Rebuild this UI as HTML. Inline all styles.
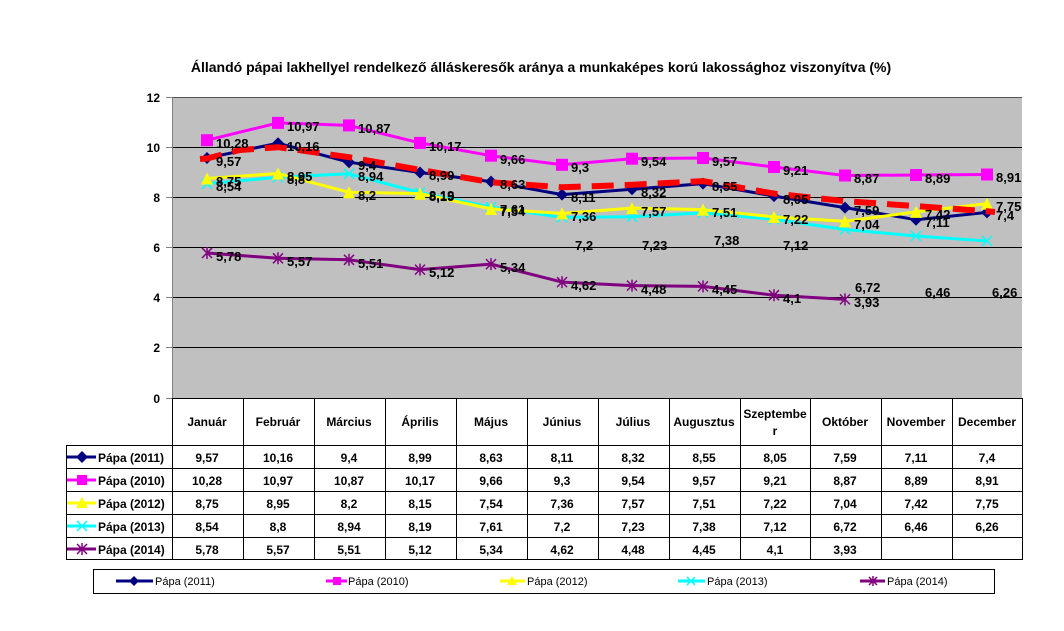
<!DOCTYPE html>
<html><head><meta charset="utf-8"><style>
html,body{margin:0;padding:0;background:#fff;}
svg{display:block;font-family:"Liberation Sans",sans-serif;font-weight:bold;}
</style></head><body>
<svg width="1064" height="631" viewBox="0 0 1064 631" xmlns="http://www.w3.org/2000/svg">
<defs>
<marker id="md" markerUnits="userSpaceOnUse" markerWidth="14" markerHeight="14" refX="7" refY="7"><path d="M7 1 L13 7 L7 13 L1 7Z" fill="#000080"/></marker>
<marker id="ms" markerUnits="userSpaceOnUse" markerWidth="14" markerHeight="14" refX="7" refY="7"><rect x="1" y="1" width="12" height="12" fill="#ff00ff"/></marker>
<marker id="mt" markerUnits="userSpaceOnUse" markerWidth="14" markerHeight="14" refX="7" refY="7"><path d="M7 1 L13 13 L1 13Z" fill="#ffff00"/></marker>
<marker id="mx" markerUnits="userSpaceOnUse" markerWidth="14" markerHeight="14" refX="7" refY="7"><path d="M2 2 L12 12 M12 2 L2 12" stroke="#00ffff" stroke-width="1.5"/></marker>
<marker id="ma" markerUnits="userSpaceOnUse" markerWidth="14" markerHeight="14" refX="7" refY="7"><path d="M2 2 L12 12 M12 2 L2 12 M7 1 L7 13" stroke="#800080" stroke-width="1.5"/></marker>
</defs>
<text x="541" y="72" font-size="14" text-anchor="middle">Állandó pápai lakhellyel rendelkező álláskeresők aránya a munkaképes korú lakossághoz viszonyítva (%)</text>
<rect x="172" y="97" width="850" height="301" fill="#c0c0c0"/>
<g stroke="#000" stroke-width="1">
<line x1="172" y1="97.5" x2="1022" y2="97.5" stroke="#555"/>
<line x1="172" y1="147.5" x2="1022" y2="147.5"/>
<line x1="172" y1="197.5" x2="1022" y2="197.5"/>
<line x1="172" y1="247.5" x2="1022" y2="247.5"/>
<line x1="172" y1="297.5" x2="1022" y2="297.5"/>
<line x1="172" y1="347.5" x2="1022" y2="347.5"/>
<line x1="172.5" y1="97" x2="172.5" y2="398" stroke="#808080"/>
<line x1="166" y1="97.5" x2="172" y2="97.5" stroke="#808080"/>
<line x1="166" y1="147.5" x2="172" y2="147.5" stroke="#808080"/>
<line x1="166" y1="197.5" x2="172" y2="197.5" stroke="#808080"/>
<line x1="166" y1="247.5" x2="172" y2="247.5" stroke="#808080"/>
<line x1="166" y1="297.5" x2="172" y2="297.5" stroke="#808080"/>
<line x1="166" y1="347.5" x2="172" y2="347.5" stroke="#808080"/>
<line x1="166" y1="398.5" x2="172" y2="398.5" stroke="#808080"/>
</g>
<g font-size="12" text-anchor="end">
<text x="160" y="102">12</text><text x="160" y="152">10</text><text x="160" y="202">8</text><text x="160" y="252">6</text><text x="160" y="302">4</text><text x="160" y="352">2</text><text x="160" y="403">0</text>
</g>
<g fill="none" stroke-width="3" stroke-linejoin="round">
<polyline stroke="#ff00ff" marker-start="url(#ms)" marker-mid="url(#ms)" marker-end="url(#ms)" points="207,140.2 278,122.9 349,125.4 420,142.9 491,155.7 562,164.8 632,158.7 703,158 774,167 845,175.5 916,175 987,174.5"/>
<polyline stroke="#000080" marker-start="url(#md)" marker-mid="url(#md)" marker-end="url(#md)" points="207,158 278,143.2 349,162.2 420,172.5 491,181.6 562,194.6 632,189.3 703,183.6 774,196.1 845,207.6 916,219.7 987,212.4"/>
<polyline stroke="#00ffff" marker-start="url(#mx)" marker-mid="url(#mx)" marker-end="url(#mx)" points="207,183.8 278,177.3 349,173.8 420,192.6 491,207.1 562,217.4 632,216.7 703,212.9 774,219.4 845,229.5 916,236 987,241"/>
<polyline stroke="#ffff00" marker-start="url(#mt)" marker-mid="url(#mt)" marker-end="url(#mt)" points="207,178.5 278,173.5 349,192.3 420,193.6 491,208.9 562,213.4 632,208.1 703,209.6 774,216.9 845,221.4 916,211.9 987,203.6"/>
<polyline stroke="#800080" marker-start="url(#ma)" marker-mid="url(#ma)" marker-end="url(#ma)" points="207,253 278,258.3 349,259.8 420,269.6 491,264.1 562,282.1 632,285.6 703,286.4 774,295.2 845,299.4"/>
<polyline stroke="#ff0000" stroke-width="6" stroke-dasharray="22,11" stroke-linejoin="round" points="200,159 207,158.5 240,150 278,147.2 349,157.2 420,169.8 491,182.3 562,187.3 632,184.8 703,181.1 774,193.6 845,201.1 916,206.1 987,211.2 995,212"/>
</g>
<g font-size="13">
<text x="216" y="148">10,28</text><text x="287" y="131">10,97</text><text x="358" y="133">10,87</text><text x="429" y="151">10,17</text><text x="500" y="164">9,66</text><text x="571" y="172">9,3</text><text x="641" y="166">9,54</text><text x="712" y="166">9,57</text><text x="783" y="175">9,21</text><text x="854" y="183">8,87</text><text x="925" y="183">8,89</text><text x="996" y="182">8,91</text>
<text x="216" y="166">9,57</text><text x="287" y="151">10,16</text><text x="358" y="170">9,4</text><text x="429" y="180">8,99</text><text x="500" y="189">8,63</text><text x="571" y="202">8,11</text><text x="641" y="197">8,32</text><text x="712" y="191">8,55</text><text x="783" y="204">8,05</text><text x="854" y="215">7,59</text><text x="925" y="227">7,11</text><text x="996" y="220">7,4</text>
<text x="216" y="186">8,75</text><text x="287" y="181">8,95</text><text x="358" y="200">8,2</text><text x="429" y="201">8,15</text><text x="500" y="216">7,54</text><text x="571" y="221">7,36</text><text x="641" y="216">7,57</text><text x="712" y="217">7,51</text><text x="783" y="224">7,22</text><text x="854" y="229">7,04</text><text x="925" y="219">7,42</text><text x="996" y="211">7,75</text>
<text x="216" y="191">8,54</text><text x="287" y="184">8,8</text><text x="358" y="181">8,94</text><text x="429" y="200">8,19</text><text x="500" y="214">7,61</text><text x="575" y="250">7,2</text><text x="642" y="250">7,23</text><text x="714" y="245">7,38</text><text x="783" y="250">7,12</text><text x="855" y="292">6,72</text><text x="925" y="297">6,46</text><text x="992" y="297">6,26</text>
<text x="216" y="261">5,78</text><text x="287" y="266">5,57</text><text x="358" y="268">5,51</text><text x="429" y="277">5,12</text><text x="500" y="272">5,34</text><text x="571" y="290">4,62</text><text x="641" y="294">4,48</text><text x="712" y="294">4,45</text><text x="783" y="303">4,1</text><text x="854" y="307">3,93</text>
</g>
<g stroke="#000" stroke-width="1" fill="none">
<rect x="172.5" y="398.5" width="850" height="161"/>
<rect x="66.5" y="445.5" width="106" height="114"/>
<line x1="66" y1="468.5" x2="1022" y2="468.5"/><line x1="66" y1="491.5" x2="1022" y2="491.5"/><line x1="66" y1="514.5" x2="1022" y2="514.5"/><line x1="66" y1="537.5" x2="1022" y2="537.5"/><line x1="172" y1="445.5" x2="1022" y2="445.5"/>
<line x1="243.5" y1="398" x2="243.5" y2="560"/><line x1="314.5" y1="398" x2="314.5" y2="560"/><line x1="385.5" y1="398" x2="385.5" y2="560"/><line x1="456.5" y1="398" x2="456.5" y2="560"/><line x1="527.5" y1="398" x2="527.5" y2="560"/><line x1="598.5" y1="398" x2="598.5" y2="560"/><line x1="669.5" y1="398" x2="669.5" y2="560"/><line x1="740.5" y1="398" x2="740.5" y2="560"/><line x1="810.5" y1="398" x2="810.5" y2="560"/><line x1="881.5" y1="398" x2="881.5" y2="560"/><line x1="952.5" y1="398" x2="952.5" y2="560"/>
</g>
<g font-size="12" text-anchor="middle">
<text x="207" y="426">Január</text><text x="278" y="426">Február</text><text x="349" y="426">Március</text><text x="420" y="426">Április</text><text x="491" y="426">Május</text><text x="562" y="426">Június</text><text x="633" y="426">Július</text><text x="704" y="426">Augusztus</text><text x="775" y="418">Szeptembe</text><text x="775" y="435">r</text><text x="845" y="426">Október</text><text x="916" y="426">November</text><text x="987" y="426">December</text>
<text x="207" y="462">9,57</text><text x="278" y="462">10,16</text><text x="349" y="462">9,4</text><text x="420" y="462">8,99</text><text x="491" y="462">8,63</text><text x="562" y="462">8,11</text><text x="633" y="462">8,32</text><text x="704" y="462">8,55</text><text x="775" y="462">8,05</text><text x="845" y="462">7,59</text><text x="916" y="462">7,11</text><text x="987" y="462">7,4</text>
<text x="207" y="485">10,28</text><text x="278" y="485">10,97</text><text x="349" y="485">10,87</text><text x="420" y="485">10,17</text><text x="491" y="485">9,66</text><text x="562" y="485">9,3</text><text x="633" y="485">9,54</text><text x="704" y="485">9,57</text><text x="775" y="485">9,21</text><text x="845" y="485">8,87</text><text x="916" y="485">8,89</text><text x="987" y="485">8,91</text>
<text x="207" y="508">8,75</text><text x="278" y="508">8,95</text><text x="349" y="508">8,2</text><text x="420" y="508">8,15</text><text x="491" y="508">7,54</text><text x="562" y="508">7,36</text><text x="633" y="508">7,57</text><text x="704" y="508">7,51</text><text x="775" y="508">7,22</text><text x="845" y="508">7,04</text><text x="916" y="508">7,42</text><text x="987" y="508">7,75</text>
<text x="207" y="531">8,54</text><text x="278" y="531">8,8</text><text x="349" y="531">8,94</text><text x="420" y="531">8,19</text><text x="491" y="531">7,61</text><text x="562" y="531">7,2</text><text x="633" y="531">7,23</text><text x="704" y="531">7,38</text><text x="775" y="531">7,12</text><text x="845" y="531">6,72</text><text x="916" y="531">6,46</text><text x="987" y="531">6,26</text>
<text x="207" y="554">5,78</text><text x="278" y="554">5,57</text><text x="349" y="554">5,51</text><text x="420" y="554">5,12</text><text x="491" y="554">5,34</text><text x="562" y="554">4,62</text><text x="633" y="554">4,48</text><text x="704" y="554">4,45</text><text x="775" y="554">4,1</text><text x="845" y="554">3,93</text>
</g>
<g stroke-width="3">
<line x1="67" y1="457" x2="96" y2="457" stroke="#000080"/>
<path d="M82 451 L88 457 L82 463 L76 457Z" fill="#000080"/>
<line x1="67" y1="480" x2="96" y2="480" stroke="#ff00ff"/><rect x="77" y="475" width="10" height="10" fill="#ff00ff"/>
<line x1="67" y1="503" x2="96" y2="503" stroke="#ffff00"/><path d="M82 497 L88 508 L76 508Z" fill="#ffff00"/>
<line x1="67" y1="526" x2="96" y2="526" stroke="#00ffff"/><path d="M77 521 L87 531 M87 521 L77 531" stroke="#00ffff" stroke-width="1.5"/>
<line x1="67" y1="549" x2="96" y2="549" stroke="#800080"/><path d="M77 544 L87 554 M87 544 L77 554 M82 543 L82 555" stroke="#800080" stroke-width="1.5"/>
</g>
<g font-size="12"><text x="98" y="462">Pápa (2011)</text><text x="98" y="485">Pápa (2010)</text><text x="98" y="508">Pápa (2012)</text><text x="98" y="531">Pápa (2013)</text><text x="98" y="554">Pápa (2014)</text></g>
<rect x="93.5" y="569.5" width="901" height="24" fill="#fff" stroke="#000"/>
<g stroke-width="3">
<line x1="116" y1="581" x2="153" y2="581" stroke="#000080"/><path d="M134 576 L139 581 L134 586 L129 581Z" fill="#000080"/>
<line x1="326" y1="581" x2="347" y2="581" stroke="#ff00ff"/><rect x="333" y="577" width="8" height="8" fill="#ff00ff"/>
<line x1="500" y1="581" x2="525" y2="581" stroke="#ffff00"/><path d="M512 576 L517 585 L507 585Z" fill="#ffff00"/>
<line x1="678" y1="581" x2="705" y2="581" stroke="#00ffff"/><path d="M687 577 L695 585 M695 577 L687 585" stroke="#00ffff" stroke-width="1.5"/>
<line x1="860" y1="581" x2="885" y2="581" stroke="#800080"/><path d="M869 577 L877 585 M877 577 L869 585 M873 576 L873 586" stroke="#800080" stroke-width="1.5"/>
</g>
<g font-size="11" font-weight="normal"><text x="155" y="585">Pápa (2011)</text><text x="348" y="585">Pápa (2010)</text><text x="527" y="585">Pápa (2012)</text><text x="707" y="585">Pápa (2013)</text><text x="887" y="585">Pápa (2014)</text></g>
</svg>
</body></html>
